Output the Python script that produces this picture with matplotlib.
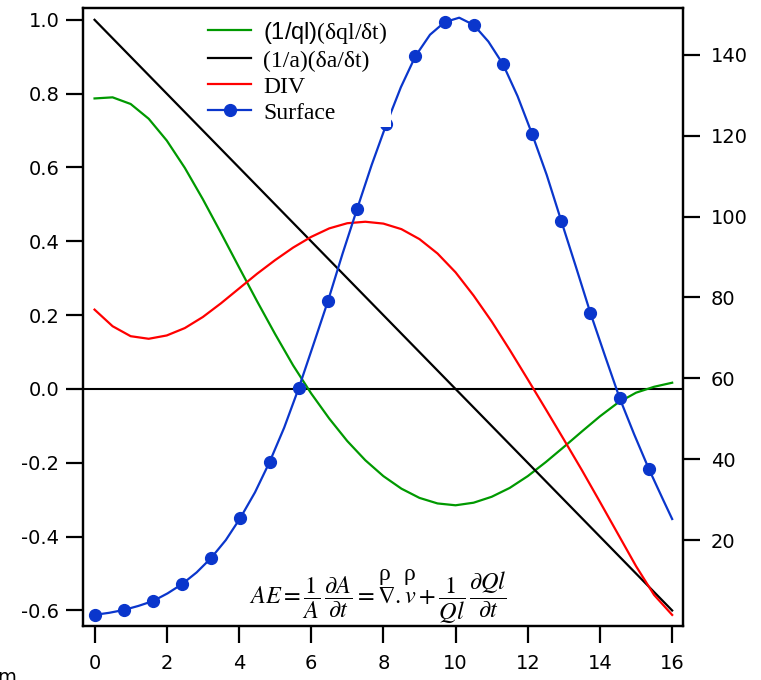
import matplotlib
matplotlib.use("Agg")
import matplotlib.pyplot as plt
from matplotlib.lines import Line2D

plt.rcParams['mathtext.fontset'] = 'custom'
plt.rcParams['mathtext.rm'] = 'Liberation Serif'
plt.rcParams['mathtext.it'] = 'Liberation Serif:italic'
plt.rcParams['mathtext.sf'] = 'Liberation Sans'

# ---- data -------------------------------------------------------------
time_x = [i * 0.5 for i in range(33)]

ql_tendency = [0.787, 0.790, 0.772, 0.732, 0.673, 0.599, 0.514, 0.423, 0.330,
               0.238, 0.149, 0.064, -0.012, -0.080, -0.141, -0.193, -0.236,
               -0.270, -0.295, -0.310, -0.315, -0.308, -0.292, -0.268, -0.236,
               -0.198, -0.157, -0.115, -0.074, -0.037, -0.010, 0.006, 0.017]

div_vals = [0.215, 0.170, 0.143, 0.136, 0.145, 0.165, 0.195, 0.232, 0.272,
            0.312, 0.349, 0.383, 0.412, 0.435, 0.449, 0.453, 0.448, 0.433,
            0.406, 0.367, 0.316, 0.253, 0.183, 0.106, 0.026, -0.055, -0.137,
            -0.220, -0.306, -0.393, -0.480, -0.558, -0.612]

area_x = [0, 16]
area_tendency = [1.0, -0.6]

surface_x = [k * 16 / 99 * 2.5 for k in range(40)] + [16.0]
surface_vals = [1.5, 2.0, 2.7, 3.7, 4.9, 6.8, 9.1, 12.0, 15.6, 20.0, 25.5, 31.8,
                39.3, 47.8, 57.6, 68.3, 79.1, 90.8, 101.9, 112.8, 122.8, 132.0,
                139.7, 145.0, 148.1, 149.2, 147.4, 143.3, 137.7, 129.8, 120.4,
                110.3, 98.9, 87.6, 76.1, 65.5, 55.1, 46.1, 37.6, 29.8, 25.2]

left_ticks = [1.0, 0.8, 0.6, 0.4, 0.2, 0.0, -0.2, -0.4, -0.6]
right_ticks = [20, 40, 60, 80, 100, 120, 140]
x_ticks = [0, 2, 4, 6, 8, 10, 12, 14, 16]

labels = [r"$\mathsf{(1/ql)}$(δql/δt)", "(1/a)(δa/δt)", "DIV", "Surface"]

GREEN = '#009900'
RED = '#ff0000'
BLUE = '#0a36cc'

# ---- figure -----------------------------------------------------------
W, H = 761, 680
fig = plt.figure(figsize=(W / 100, H / 100), dpi=100)
ax = fig.add_axes([83 / W, 1 - 626 / H, 600 / W, 618 / H])
ax2 = ax.twinx()

ax.axhline(0, color='black', lw=1.5, zorder=1)
ax.plot(time_x, ql_tendency, color=GREEN, lw=1.6, zorder=2)
ax.plot(area_x, area_tendency, color='black', lw=1.6, zorder=2)
ax.plot(time_x, div_vals, color=RED, lw=1.6, zorder=2)
ax2.plot(surface_x, surface_vals, color=BLUE, lw=1.6, marker='o', ms=8.5,
         markevery=slice(0, 39, 2))

ax.set_xlim(-0.32, 16.30)
ax.set_ylim(-0.642, 1.032)
ax2.set_ylim(-1.26, 151.6)

ax.set_xticks(x_ticks)
ax.set_xticklabels([str(t) for t in x_ticks])
ax.set_yticks(left_ticks)
ax.set_yticklabels([f"{t:.1f}" for t in left_ticks])
ax2.set_yticks(right_ticks)
ax2.set_yticklabels([str(t) for t in right_ticks])

for a in (ax, ax2):
    for s in a.spines.values():
        s.set_linewidth(1.6)
ax.tick_params(axis='both', direction='out', length=12, width=1.6,
               labelsize=14, colors='black')
ax.tick_params(axis='x', pad=8)
ax.tick_params(axis='y', pad=5)
ax2.tick_params(axis='y', direction='out', length=12, width=1.6,
                labelsize=14, pad=8)

handles = [Line2D([], [], color=GREEN, lw=1.6),
           Line2D([], [], color='black', lw=1.6),
           Line2D([], [], color=RED, lw=1.6),
           Line2D([], [], color=BLUE, lw=1.6, marker='o', ms=8.5)]
leg = ax2.legend(handles, labels, loc='upper left',
                 bbox_to_anchor=(204.5 / W, 1 - 16 / H),
                 bbox_transform=fig.transFigure, borderaxespad=0,
                 borderpad=0.15, handlelength=1.84, handletextpad=0.49,
                 labelspacing=0.19, frameon=True, fancybox=False,
                 edgecolor='none', facecolor='white', framealpha=1,
                 prop={'family': 'Liberation Serif', 'size': 17})
leg.set_zorder(10)

# continuity equation, with the vector marks set above nabla and v
fig.text(378 / W, 1 - 604 / H,
         r"$AE=\dfrac{1}{A}\,\dfrac{\partial A}{\partial t}="
         r"\nabla.\mathit{v}+"
         r"\dfrac{1}{Ql}\,\dfrac{\partial Ql}{\partial t}$",
         ha='center', va='baseline', fontsize=17.5, math_fontfamily='stix')
for rho_x in (384, 409):
    fig.text(rho_x / W, 1 - 580 / H, "ρ", ha='center', va='baseline',
             fontsize=17, family='Liberation Serif')

fig.text(-0.004, 1 - 668 / H, "m", ha='left', va='top', fontsize=14)

fig.savefig("out.png", dpi=100)
